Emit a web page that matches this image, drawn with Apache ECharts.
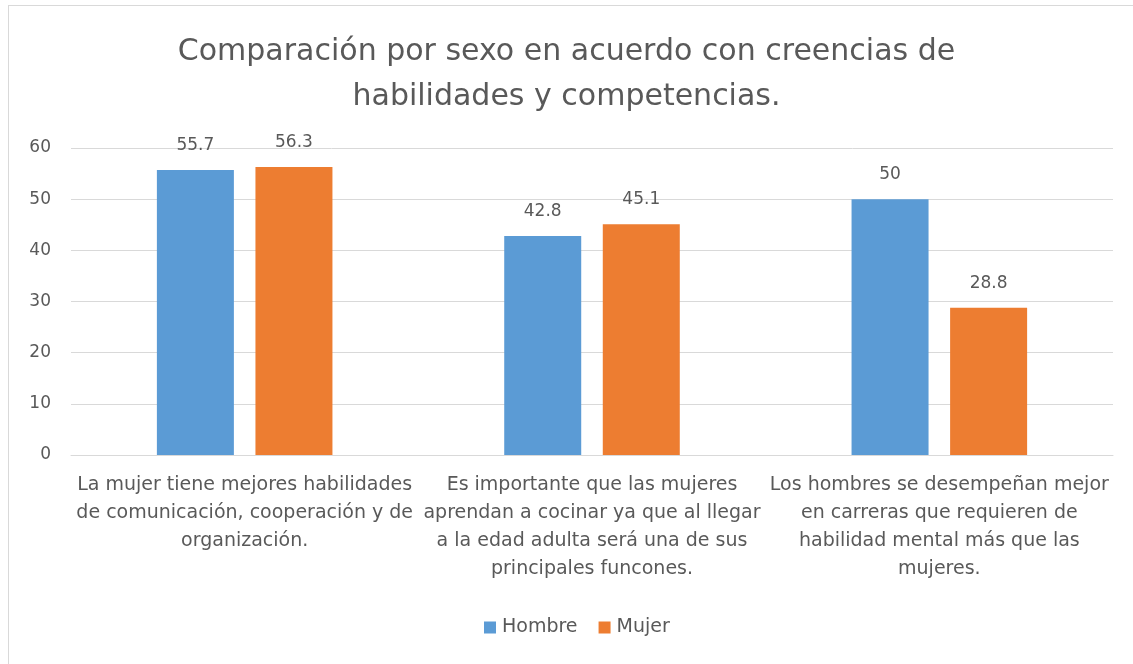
<!DOCTYPE html>
<html>
<head>
<meta charset="utf-8">
<script src="https://cdn.jsdelivr.net/npm/echarts@6/dist/echarts.min.js"></script>
<style>
  html, body { margin: 0; padding: 0; background: #fff; overflow: hidden; width: 1133px; height: 664px; }
  .frame {
    position: absolute; left: 8px; top: 5px; width: 1200px; height: 700px;
    border-left: 1px solid #d9d9d9; border-top: 1px solid #d9d9d9;
  }
  #chart { position: absolute; left: 0; top: 0; width: 1133px; height: 664px; }
</style>
</head>
<body>
<div class="frame"></div>
<div id="chart"></div>
<script>
const titleText = 'Comparación por sexo en acuerdo con creencias de\nhabilidades y competencias.';
const categories = [
  'La mujer tiene mejores habilidades\nde comunicación, cooperación y de\norganización.',
  'Es importante que las mujeres\naprendan a cocinar ya que al llegar\na la edad adulta será una de sus\nprincipales funcones.',
  'Los hombres se desempeñan mejor\nen carreras que requieren de\nhabilidad mental más que las\nmujeres.'
];
const hombre = [55.7, 42.8, 50];
const mujer = [56.3, 45.1, 28.8];
const yTicks = { min: 0, max: 60, interval: 10 };

const font = '"DejaVu Sans", "Open Sans", sans-serif';
const grey = '#595959';

const chart = echarts.init(document.getElementById('chart'));
chart.setOption({
  animation: false,
  textStyle: { fontFamily: font },
  title: {
    text: titleText,
    left: 'center',
    top: 25,
    textStyle: { fontFamily: font, fontSize: 30, fontWeight: 'normal', color: grey, lineHeight: 45 }
  },
  legend: {
    bottom: 22,
    left: 479,
    icon: 'rect',
    itemWidth: 12,
    itemHeight: 12,
    itemGap: 21,
    textStyle: { fontFamily: font, fontSize: 19, color: grey, padding: [0, 0, 0, 1] }
  },
  grid: { left: 71, right: 20, top: 148, bottom: 209 },
  xAxis: {
    type: 'category',
    data: categories,
    axisTick: { show: false },
    axisLine: { lineStyle: { color: '#d9d9d9' } },
    axisLabel: {
      interval: 0,
      margin: 16,
      fontFamily: font,
      fontSize: 19,
      lineHeight: 28,
      color: grey
    }
  },
  yAxis: {
    type: 'value',
    min: yTicks.min,
    max: yTicks.max,
    interval: yTicks.interval,
    axisLabel: { fontFamily: font, fontSize: 17, color: grey, margin: 20 },
    splitLine: { lineStyle: { color: '#d9d9d9' } }
  },
  series: [
    {
      name: 'Hombre',
      type: 'bar',
      data: hombre,
      barWidth: 77,
      barGap: '28%',
      itemStyle: { color: '#5B9BD5' },
      label: { show: true, position: 'top', distance: 16, fontFamily: font, fontSize: 17, color: grey }
    },
    {
      name: 'Mujer',
      type: 'bar',
      data: mujer,
      barWidth: 77,
      itemStyle: { color: '#ED7D31' },
      label: { show: true, position: 'top', distance: 16, fontFamily: font, fontSize: 17, color: grey }
    }
  ]
});
</script>
</body>
</html>
